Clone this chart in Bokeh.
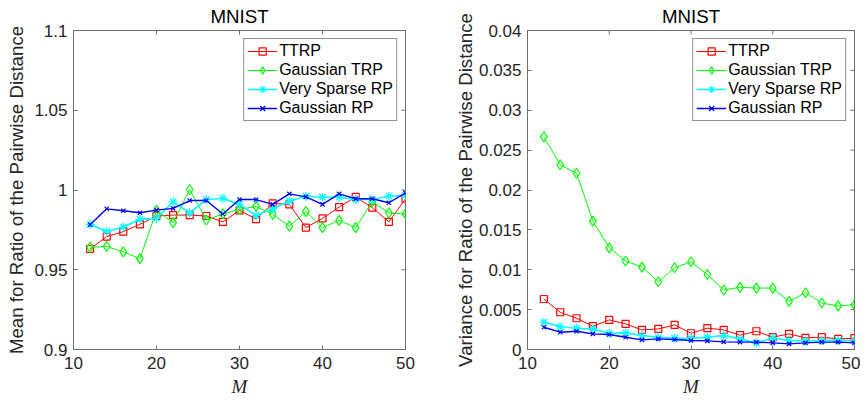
import math
from bokeh.plotting import figure
from bokeh.layouts import row
from bokeh.models import FixedTicker, Legend
from bokeh.embed import file_html
from bokeh.resources import INLINE

# ---------------- data ----------------
M = [12, 14, 16, 18, 20, 22, 24, 26, 28, 30, 32, 34, 36, 38, 40, 42, 44, 46, 48, 50]

series_names = ["TTRP", "Gaussian TRP", "Very Sparse RP", "Gaussian RP"]

ttrp_mean = [0.963, 0.9708, 0.9739, 0.9785, 0.9837, 0.9843, 0.9843, 0.9837, 0.980, 0.9872,
             0.9818, 0.9916, 0.991, 0.9764, 0.9822, 0.9893, 0.9957, 0.9889, 0.980, 0.9945]
gtrp_mean = [0.964, 0.9646, 0.9612, 0.957, 0.9872, 0.9795, 1.0003, 0.9812, 0.985, 0.9878,
             0.9897, 0.9847, 0.9774, 0.9864, 0.9764, 0.981, 0.9764, 0.9926, 0.9857, 0.985]
vsrp_mean = [0.9785, 0.974, 0.9768, 0.9816, 0.9822, 0.9926, 0.9857, 0.994, 0.9947, 0.991,
             0.984, 0.9882, 0.993, 0.9961, 0.9955, 0.9955, 0.994, 0.994, 0.9961, 0.9966]
grp_mean = [0.9782, 0.9882, 0.987, 0.9857, 0.9874, 0.9885, 0.9934, 0.9934, 0.985, 0.994,
            0.994, 0.991, 0.9976, 0.9957, 0.991, 0.9976, 0.9945, 0.9945, 0.992, 0.9982]

ttrp_var = [0.00633, 0.00467, 0.00392, 0.00292, 0.00371, 0.00321, 0.00246, 0.00258, 0.00308, 0.00204,
            0.00267, 0.00246, 0.00179, 0.00229, 0.00154, 0.00196, 0.00146, 0.00154, 0.00133, 0.00142]
gtrp_var = [0.02667, 0.02317, 0.0221, 0.0161, 0.01275, 0.0111, 0.01033, 0.0085, 0.01025, 0.011,
            0.0094, 0.00746, 0.0078, 0.0077, 0.0077, 0.00604, 0.00712, 0.00583, 0.00546, 0.00562]
vsrp_var = [0.00342, 0.00288, 0.00267, 0.00258, 0.00204, 0.00208, 0.00175, 0.00154, 0.00142, 0.0014,
            0.00154, 0.00175, 0.00133, 0.0008, 0.00146, 0.00112, 0.00108, 0.00112, 0.00117, 0.00112]
grp_var = [0.00279, 0.00217, 0.00229, 0.00196, 0.00188, 0.00154, 0.00121, 0.00133, 0.00125, 0.00112,
           0.00108, 0.00096, 0.00092, 0.00092, 0.00083, 0.00071, 0.00083, 0.00092, 0.00092, 0.00083]

x_ticks = [10, 20, 30, 40, 50]
left_y_ticks = [0.9, 0.95, 1.0, 1.05, 1.1]
left_y_labels = ["0.9", "0.95", "1", "1.05", "1.1"]
right_y_ticks = [0, 0.005, 0.01, 0.015, 0.02, 0.025, 0.03, 0.035, 0.04]
right_y_labels = ["0", "0.005", "0.01", "0.015", "0.02", "0.025", "0.03", "0.035", "0.04"]

# ---------------- style ----------------
FONT = "Liberation Sans"
AX = "#262626"
FRAME = "#6f6f6f"
styles = [
    dict(color="#ff0000", marker="square", size=7, lw=1.0),
    dict(color="#00ff00", marker="diamond", size=10, lw=1.0),
    dict(color="#00ffff", marker="asterisk", size=9, lw=1.6),
    dict(color="#0000ff", marker="x", size=6, lw=1.4),
]


def style_axis(ax, ticks, overrides=None):
    ax.ticker = FixedTicker(ticks=ticks)
    if overrides:
        ax.major_label_overrides = overrides
    ax.axis_line_color = FRAME
    ax.major_tick_line_color = FRAME
    ax.major_tick_in = 4
    ax.major_tick_out = 0
    ax.minor_tick_line_color = None
    ax.major_label_text_font = FONT
    ax.major_label_text_color = AX
    ax.major_label_text_font_size = "17px"


def make_panel(width, bl, br, ylab_standoff, xrange, yrange, yticks, ylabels, ylabel, data):
    p = figure(width=width, height=402, x_range=xrange, y_range=yrange,
               output_backend="svg", toolbar_location=None,
               min_border_left=bl, min_border_right=br, min_border_top=28,
               min_border_bottom=53)
    p.title.text = "MNIST"
    p.title.align = "center"
    p.title.text_font = FONT
    p.title.text_font_size = "18.7px"
    p.title.text_font_style = "normal"
    p.title.text_color = "#000000"
    p.title.standoff = 7
    p.title.offset = 0
    p.xgrid.visible = False
    p.ygrid.visible = False
    p.outline_line_color = FRAME
    p.background_fill_color = "white"
    p.border_fill_color = "white"

    style_axis(p.xaxis[0], x_ticks)
    style_axis(p.yaxis[0], yticks, dict(zip(yticks, ylabels)))
    p.xaxis[0].major_label_standoff = 7
    p.yaxis[0].major_label_standoff = 6
    p.xaxis[0].axis_label = "M"
    p.xaxis[0].axis_label_text_font = "Liberation Serif"
    p.xaxis[0].axis_label_text_font_style = "italic"
    p.xaxis[0].axis_label_text_font_size = "19px"
    p.xaxis[0].axis_label_text_color = AX
    p.xaxis[0].axis_label_standoff = 4
    p.yaxis[0].axis_label = ylabel
    p.yaxis[0].axis_label_text_font = FONT
    p.yaxis[0].axis_label_text_font_style = "normal"
    p.yaxis[0].axis_label_text_font_size = "18.7px"
    p.yaxis[0].axis_label_text_color = AX
    p.yaxis[0].axis_label_standoff = ylab_standoff

    # inward tick marks on the top and right edges of the box
    p.scatter(x_ticks, [yrange[1]] * len(x_ticks), marker="dash", angle=math.pi / 2,
              size=8, line_color=FRAME, line_width=1)
    p.scatter([xrange[1]] * len(yticks), yticks, marker="dash",
              size=8, line_color=FRAME, line_width=1)

    items = []
    for name, ys, st in zip(series_names, data, styles):
        r1 = p.line(M, ys, line_color=st["color"], line_width=st["lw"])
        r2 = p.scatter(M, ys, marker=st["marker"], size=st["size"],
                       line_color=st["color"], fill_color=None, line_width=1.2)
        items.append((name, [r1, r2]))

    leg = Legend(items=items, location="top_right")
    leg.margin = 8
    leg.padding = 3
    leg.spacing = 1
    leg.label_height = 18
    leg.glyph_height = 18
    leg.glyph_width = 30
    leg.label_standoff = 2
    leg.label_text_font = FONT
    leg.label_text_font_size = "16px"
    leg.label_text_color = "#000000"
    leg.border_line_color = AX
    leg.border_line_width = 1
    leg.background_fill_color = "white"
    leg.background_fill_alpha = 1.0
    p.add_layout(leg, "center")
    return p


p1 = make_panel(448, 73, 43, 4, (10, 50), (0.9, 1.1), left_y_ticks, left_y_labels,
                "Mean for Ratio of the Pairwise Distance",
                [ttrp_mean, gtrp_mean, vsrp_mean, grp_mean])
p2 = make_panel(412, 79, 6, 0, (10, 50), (0, 0.04), right_y_ticks, right_y_labels,
                "Variance for Ratio of the Pairwise Distance",
                [ttrp_var, gtrp_var, vsrp_var, grp_var])

layout = row(p1, p2)
open("out.html", "w").write(file_html(layout, INLINE))
